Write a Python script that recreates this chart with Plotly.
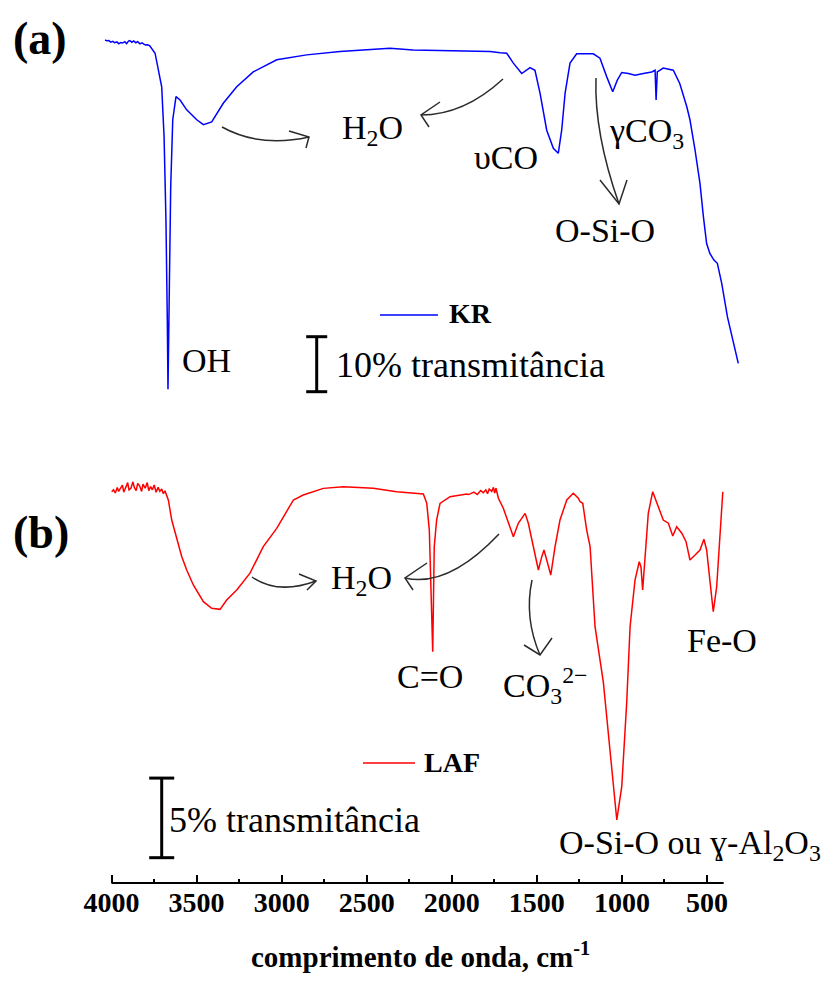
import plotly.graph_objects as go

# FTIR spectra: wavenumber (cm-1) and transmittance (%)
KR_WN = [4038, 4026, 4015, 4004, 3992, 3981, 3968, 3957, 3946, 3935, 3922, 3911, 3900, 3892,
         3880, 3869, 3857, 3846, 3833, 3821, 3810, 3800, 3787, 3774, 3744, 3725, 3705, 3691,
         3680, 3672, 3668, 3660, 3652, 3640, 3621,
         3597, 3558, 3499, 3460, 3411, 3343, 3264, 3167, 3029, 2853, 2657, 2500, 2363, 2228,
         2030, 1775, 1716, 1677, 1638, 1589, 1540, 1511, 1481, 1442, 1403, 1374, 1354, 1334,
         1305, 1266, 1168, 1129, 1089, 1054, 1027, 1001, 962, 923, 874, 825, 805, 799, 792,
         757, 698, 660, 619, 600, 570, 541, 521, 502, 483, 459, 439, 413, 380, 335, 316]
KR_T = [95.0, 94.85, 94.9, 94.6, 94.75, 94.5, 94.65, 94.3, 94.55, 94.45, 94.7, 94.35, 94.8, 94.9,
        94.6, 94.85, 94.5, 94.7, 94.3, 94.5, 94.25, 94.1, 94.15, 93.9, 92.6, 89.5, 86.5, 77.4,
        62.3, 44.1, 31.5, 50.1, 68.3, 80.5, 84.7,
        84.1, 82.3, 80.5, 79.6, 80.1, 83.5, 86.5, 89.2, 91.4, 92.3, 92.9, 93.2, 93.5, 93.2,
        93.1, 92.9, 92.7, 92.6, 90.8, 88.9, 90.0, 89.5, 85.3, 78.6, 75.3, 74.4, 78.6, 85.3,
        90.8, 92.5, 92.5, 91.7, 88.3, 85.6, 87.7, 89.1, 88.9, 88.6, 88.9, 89.2, 89.5, 84.1, 89.2,
        89.9, 89.5, 87.1, 82.9, 80.5, 75.0, 68.9, 62.9, 58.0, 56.2, 55.0, 54.4, 50.7, 44.7, 38.6, 36.2]

LAF_WN = [3999, 3988, 3978, 3966, 3958, 3948, 3936, 3928, 3917, 3905, 3897, 3886, 3874, 3866,
          3855, 3846, 3835, 3823, 3815, 3802, 3790, 3781, 3770, 3760, 3749, 3738, 3726, 3716,
          3705, 3695, 3686, 3666, 3646, 3617, 3587, 3558, 3519,
          3460, 3411, 3362, 3323, 3264, 3186, 3108, 3029, 2931, 2873, 2755, 2637, 2461, 2324,
          2167, 2147, 2132, 2121, 2112, 2103, 2089, 2069, 2010, 1912, 1900, 1870, 1850, 1830,
          1815, 1800, 1790, 1780, 1765, 1755, 1748, 1740, 1732,
          1726, 1697, 1658, 1638, 1609, 1569, 1550, 1521, 1491, 1471, 1458, 1442, 1418,
          1393, 1364, 1324, 1286, 1256, 1246, 1230, 1207, 1187, 1158, 1109, 1070, 1030, 1001,
          972, 952, 923, 898, 888, 878, 868, 845, 819, 786, 757, 727, 701, 678, 648, 623, 600,
          570, 541, 518, 502, 483, 463, 443, 424, 407]
LAF_T = [77.78, 77.90, 77.70, 78.05, 77.80, 77.95, 78.20, 77.75, 78.10, 78.35, 77.90, 78.00,
         78.40, 78.05, 77.85, 78.30, 78.15, 77.80, 78.25, 78.00, 78.35, 77.85, 78.10, 77.90,
         78.20, 77.75, 78.05, 77.80, 77.95, 77.65, 77.84, 77.26, 76.00, 74.95, 73.70, 72.86, 71.92,
         70.87, 70.46, 70.39, 70.98, 71.61, 72.66, 74.33, 75.48, 77.26, 77.57, 77.99, 78.09,
         77.99, 77.78, 77.64, 77.05, 75.37, 70.98, 67.73, 74.33, 76.00, 77.05, 77.47, 77.64,
         77.60, 77.75, 77.60, 77.85, 77.72, 77.90, 77.65, 77.95, 77.80, 78.05, 77.70, 78.00, 77.60,
         77.37, 76.74, 75.58, 74.95, 75.80, 76.42, 75.80, 74.33, 72.86, 73.70, 74.12, 73.49, 72.55,
         74.33, 76.00, 77.26, 77.68, 77.37, 77.15, 77.05, 75.37, 74.33, 69.30, 65.80, 61.35,
         57.16, 59.25, 64.49, 69.30, 72.23, 73.38, 73.07, 71.61, 73.28, 76.42, 77.78, 76.84,
         76.00, 75.80, 75.00, 75.58, 75.17, 74.64, 73.49, 73.80, 74.12, 74.79, 74.12, 72.23,
         70.24, 71.81, 74.95, 77.78]

TICKS = [4000, 3500, 3000, 2500, 2000, 1500, 1000, 500]
MINOR_TICKS = [3750, 3250, 2750, 2250, 1750, 1250, 750]
AXIS_END = 402

W, H = 835, 982
ML, MR, MT, MB = 103, 94, 20, 99
PW, PH = W - ML - MR, H - MT - MB
SPLIT = (H - MB - 450) / PH

SERIF = "Liberation Serif, Times New Roman, serif"
INK = "#2b2b2b"


def fx(px):
    return (px - ML) / PW


def fy(py):
    return (H - MB - py) / PH


fig = go.Figure()
fig.add_trace(go.Scatter(x=KR_WN, y=KR_T, mode="lines", name="KR", yaxis="y2",
                         line=dict(color="#0000FF", width=1.5), showlegend=False))
fig.add_trace(go.Scatter(x=LAF_WN, y=LAF_T, mode="lines", name="LAF", yaxis="y",
                         line=dict(color="#FF0000", width=1.5), showlegend=False))

shapes = []
# bottom axis line
shapes.append(dict(type="line", xref="x", yref="paper", x0=TICKS[0], x1=AXIS_END, y0=0, y1=0,
                   line=dict(color="black", width=2)))


# scale bars (10 % on the upper spectrum, 5 % on the lower one)
def scale_bar(px, half, yref, t0, t1):
    out = [dict(type="line", xref="paper", yref=yref, x0=fx(px), x1=fx(px), y0=t0, y1=t1,
                line=dict(color="black", width=3))]
    for t in (t0, t1):
        out.append(dict(type="line", xref="paper", yref=yref, x0=fx(px - half), x1=fx(px + half),
                        y0=t, y1=t, line=dict(color="black", width=3)))
    return out


shapes += scale_bar(316.7, 10.5, "y2", 31.06, 41.06)
shapes += scale_bar(161.7, 12.5, "y", 54.79, 59.79)

# legend swatches
shapes.append(dict(type="line", xref="paper", yref="paper", x0=fx(380), x1=fx(438),
                   y0=fy(315), y1=fy(315), line=dict(color="#0000FF", width=1.5)))
shapes.append(dict(type="line", xref="paper", yref="paper", x0=fx(363), x1=fx(415),
                   y0=fy(763), y1=fy(763), line=dict(color="#FF0000", width=1.5)))


# curved arrows: quadratic curve plus an open arrowhead
def curved_arrow(p0, c, p1, arm1, arm2):
    P = lambda p: f"{fx(p[0]):.5f},{fy(p[1]):.5f}"
    body = f"M {P(p0)} Q {P(c)} {P(p1)}"
    head = f"M {P(arm1)} L {P(p1)} L {P(arm2)}"
    style = dict(type="path", xref="paper", yref="paper", line=dict(color=INK, width=1.5))
    return [dict(path=body, **style), dict(path=head, **style)]


shapes += curved_arrow((222, 127), (260, 148), (309, 137), (289, 131), (306, 148))
shapes += curved_arrow((503, 79), (464, 115), (421, 115), (440, 102), (429, 127))
shapes += curved_arrow((596, 78), (594, 133), (619, 204), (600, 180), (627, 180))
shapes += curved_arrow((252, 577), (278, 595), (316, 581), (299, 574), (307, 590))
shapes += curved_arrow((499, 534), (448, 588), (405, 578), (427, 563), (413, 590))
shapes += curved_arrow((532, 580), (524, 618), (540, 655), (524, 645), (552, 638))

annotations = []


def label(text, px, py, size=34, xanchor="center", bold=False):
    annotations.append(dict(text=text, x=fx(px), y=fy(py), xref="paper", yref="paper",
                            xanchor=xanchor, yanchor="middle", showarrow=False,
                            font=dict(family=SERIF, size=size, color="black",
                                      weight="bold" if bold else "normal")))


label("(a)", 40, 38, size=46, bold=True)
label("(b)", 41, 532, size=46, bold=True)
label("OH", 206, 360)
label("H<sub>2</sub>O", 372, 130)
label("υCO", 506, 157)
label("γCO<sub>3</sub>", 646, 133)
label("O-Si-O", 605, 231)
label("KR", 447, 313, size=28, xanchor="left", bold=True)
label("10% transmitância", 334, 365, size=36, xanchor="left")
label("H<sub>2</sub>O", 361, 580)
label("C=O", 430, 676)
label("CO<sub>3</sub><sup>2−</sup>", 545, 685)
label("Fe-O", 722, 640)
label("LAF", 422, 762, size=28, xanchor="left", bold=True)
label("5% transmitância", 167, 820, size=36, xanchor="left")
label("O-Si-O ou ɣ-Al<sub>2</sub>O<sub>3</sub>", 557, 845, xanchor="left")
label("comprimento de onda, cm<sup>-1</sup>", 420, 955, size=29, bold=True)

fig.update_layout(
    width=W, height=H,
    margin=dict(l=ML, r=MR, t=MT, b=MB, pad=0),
    paper_bgcolor="white", plot_bgcolor="white",
    showlegend=False,
    xaxis=dict(range=[4050, 300], tickvals=TICKS, ticks="inside", ticklen=8, tickwidth=1.5,
               tickcolor="black", showline=False, showgrid=False, zeroline=False,
               tickfont=dict(family=SERIF, size=28, color="black", weight="bold"),
               minor=dict(tickvals=MINOR_TICKS, ticks="inside", ticklen=4, tickwidth=1.5,
                          tickcolor="black", showgrid=False),
               anchor="y"),
    yaxis=dict(domain=[0, SPLIT], range=[53.2, 80.4], visible=False),
    yaxis2=dict(domain=[SPLIT, 1], range=[20.46, 98.64], visible=False, anchor="x"),
    shapes=shapes,
    annotations=annotations,
)

fig.write_html("out.html")
